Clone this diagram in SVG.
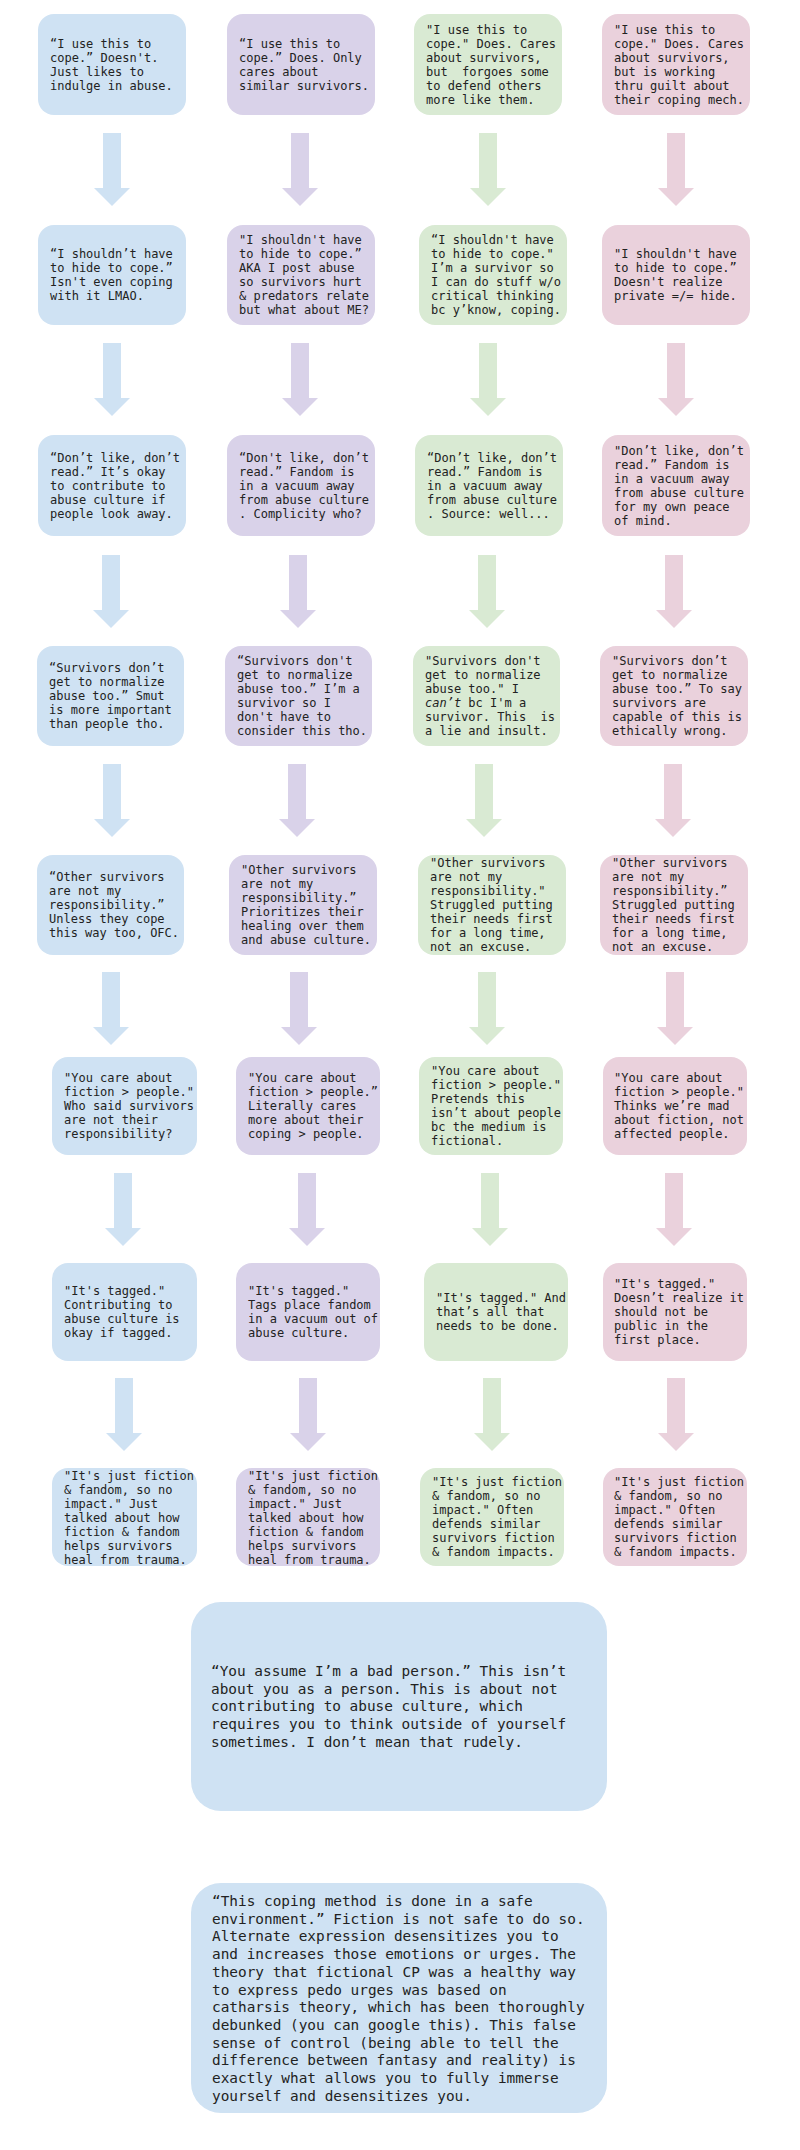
<svg xmlns="http://www.w3.org/2000/svg" xmlns:xlink="http://www.w3.org/1999/xlink" width="800" height="2150" viewBox="0 0 800 2150">
<style>
.b{fill:#cfe2f3}.p{fill:#d9d2e9}.g{fill:#d9ead3}.k{fill:#ead1dc}
.t{font-family:"DejaVu Sans Mono","Liberation Mono",monospace;font-size:12px;fill:#222;white-space:pre}
.T{font-size:14.4px}
</style>
<defs>
<path id="a" d="M-9,0H9V55H18L0,73L-18,55H-9Z"/>
</defs>
<rect width="800" height="2150" fill="#fff"/>
<g id="connectors">
<use xlink:href="#a" x="112" y="133" class="b"/>
<use xlink:href="#a" x="300" y="133" class="p"/>
<use xlink:href="#a" x="488" y="133" class="g"/>
<use xlink:href="#a" x="676" y="133" class="k"/>
<use xlink:href="#a" x="112" y="343" class="b"/>
<use xlink:href="#a" x="300" y="343" class="p"/>
<use xlink:href="#a" x="488" y="343" class="g"/>
<use xlink:href="#a" x="676" y="343" class="k"/>
<use xlink:href="#a" x="111" y="555" class="b"/>
<use xlink:href="#a" x="298" y="555" class="p"/>
<use xlink:href="#a" x="487" y="555" class="g"/>
<use xlink:href="#a" x="674" y="555" class="k"/>
<use xlink:href="#a" x="112" y="764" class="b"/>
<use xlink:href="#a" x="297" y="764" class="p"/>
<use xlink:href="#a" x="484" y="764" class="g"/>
<use xlink:href="#a" x="673" y="764" class="k"/>
<use xlink:href="#a" x="111" y="972" class="b"/>
<use xlink:href="#a" x="299" y="972" class="p"/>
<use xlink:href="#a" x="487" y="972" class="g"/>
<use xlink:href="#a" x="675" y="972" class="k"/>
<use xlink:href="#a" x="123" y="1173" class="b"/>
<use xlink:href="#a" x="307" y="1173" class="p"/>
<use xlink:href="#a" x="490" y="1173" class="g"/>
<use xlink:href="#a" x="674" y="1173" class="k"/>
<use xlink:href="#a" x="124" y="1378" class="b"/>
<use xlink:href="#a" x="308" y="1378" class="p"/>
<use xlink:href="#a" x="492" y="1378" class="g"/>
<use xlink:href="#a" x="676" y="1378" class="k"/>
</g>

<g id="b1"><rect x="38" y="14" width="148" height="101" rx="16" class="b"/>
<text class="t" x="50" y="47.5"><tspan x="50">“I use this to</tspan><tspan x="50" dy="14">cope.” Doesn't.</tspan><tspan x="50" dy="14">Just likes to</tspan><tspan x="50" dy="14">indulge in abuse.</tspan></text></g>
<g id="p1"><rect x="227" y="14" width="148" height="101" rx="16" class="p"/>
<text class="t" x="239" y="47.5"><tspan x="239">“I use this to</tspan><tspan x="239" dy="14">cope.” Does. Only</tspan><tspan x="239" dy="14">cares about</tspan><tspan x="239" dy="14">similar survivors.</tspan></text></g>
<g id="g1"><rect x="414" y="14" width="148" height="101" rx="16" class="g"/>
<text class="t" x="426" y="33.5"><tspan x="426">"I use this to</tspan><tspan x="426" dy="14">cope." Does. Cares</tspan><tspan x="426" dy="14">about survivors,</tspan><tspan x="426" dy="14">but  forgoes some</tspan><tspan x="426" dy="14">to defend others</tspan><tspan x="426" dy="14">more like them.</tspan></text></g>
<g id="k1"><rect x="602" y="14" width="148" height="101" rx="16" class="k"/>
<text class="t" x="614" y="33.5"><tspan x="614">"I use this to</tspan><tspan x="614" dy="14">cope." Does. Cares</tspan><tspan x="614" dy="14">about survivors,</tspan><tspan x="614" dy="14">but is working</tspan><tspan x="614" dy="14">thru guilt about</tspan><tspan x="614" dy="14">their coping mech.</tspan></text></g>

<g id="b2"><rect x="38" y="225" width="148" height="100" rx="16" class="b"/>
<text class="t" x="50" y="258"><tspan x="50">“I shouldn’t have</tspan><tspan x="50" dy="14">to hide to cope.”</tspan><tspan x="50" dy="14">Isn't even coping</tspan><tspan x="50" dy="14">with it LMAO.</tspan></text></g>
<g id="p2"><rect x="227" y="225" width="148" height="100" rx="16" class="p"/>
<text class="t" x="239" y="244"><tspan x="239">"I shouldn't have</tspan><tspan x="239" dy="14">to hide to cope.”</tspan><tspan x="239" dy="14">AKA I post abuse</tspan><tspan x="239" dy="14">so survivors hurt</tspan><tspan x="239" dy="14">&amp; predators relate</tspan><tspan x="239" dy="14">but what about ME?</tspan></text></g>
<g id="g2"><rect x="419" y="225" width="148" height="100" rx="16" class="g"/>
<text class="t" x="431" y="244"><tspan x="431">“I shouldn't have</tspan><tspan x="431" dy="14">to hide to cope."</tspan><tspan x="431" dy="14">I’m a survivor so</tspan><tspan x="431" dy="14">I can do stuff w/o</tspan><tspan x="431" dy="14">critical thinking</tspan><tspan x="431" dy="14">bc y’know, coping.</tspan></text></g>
<g id="k2"><rect x="602" y="225" width="148" height="100" rx="16" class="k"/>
<text class="t" x="614" y="258"><tspan x="614">"I shouldn't have</tspan><tspan x="614" dy="14">to hide to cope.”</tspan><tspan x="614" dy="14">Doesn't realize</tspan><tspan x="614" dy="14">private =/= hide.</tspan></text></g>

<g id="b3"><rect x="38" y="435" width="148" height="101" rx="16" class="b"/>
<text class="t" x="50" y="461.5"><tspan x="50">“Don’t like, don’t</tspan><tspan x="50" dy="14">read.” It’s okay</tspan><tspan x="50" dy="14">to contribute to</tspan><tspan x="50" dy="14">abuse culture if</tspan><tspan x="50" dy="14">people look away.</tspan></text></g>
<g id="p3"><rect x="227" y="435" width="148" height="101" rx="16" class="p"/>
<text class="t" x="239" y="461.5"><tspan x="239">“Don't like, don’t</tspan><tspan x="239" dy="14">read.” Fandom is</tspan><tspan x="239" dy="14">in a vacuum away</tspan><tspan x="239" dy="14">from abuse culture</tspan><tspan x="239" dy="14">. Complicity who?</tspan></text></g>
<g id="g3"><rect x="415" y="435" width="148" height="101" rx="16" class="g"/>
<text class="t" x="427" y="461.5"><tspan x="427">“Don’t like, don’t</tspan><tspan x="427" dy="14">read.” Fandom is</tspan><tspan x="427" dy="14">in a vacuum away</tspan><tspan x="427" dy="14">from abuse culture</tspan><tspan x="427" dy="14">. Source: well...</tspan></text></g>
<g id="k3"><rect x="602" y="435" width="148" height="101" rx="16" class="k"/>
<text class="t" x="614" y="454.5"><tspan x="614">"Don’t like, don’t</tspan><tspan x="614" dy="14">read.” Fandom is</tspan><tspan x="614" dy="14">in a vacuum away</tspan><tspan x="614" dy="14">from abuse culture</tspan><tspan x="614" dy="14">for my own peace</tspan><tspan x="614" dy="14">of mind.</tspan></text></g>

<g id="b4"><rect x="37" y="646" width="147" height="100" rx="16" class="b"/>
<text class="t" x="49" y="672"><tspan x="49">“Survivors don’t</tspan><tspan x="49" dy="14">get to normalize</tspan><tspan x="49" dy="14">abuse too.” Smut</tspan><tspan x="49" dy="14">is more important</tspan><tspan x="49" dy="14">than people tho.</tspan></text></g>
<g id="p4"><rect x="225" y="646" width="147" height="100" rx="16" class="p"/>
<text class="t" x="237" y="665"><tspan x="237">“Survivors don't</tspan><tspan x="237" dy="14">get to normalize</tspan><tspan x="237" dy="14">abuse too.” I’m a</tspan><tspan x="237" dy="14">survivor so I</tspan><tspan x="237" dy="14">don't have to</tspan><tspan x="237" dy="14">consider this tho.</tspan></text></g>
<g id="g4"><rect x="413" y="646" width="147" height="100" rx="16" class="g"/>
<text class="t" x="425" y="665"><tspan x="425">"Survivors don't</tspan><tspan x="425" dy="14">get to normalize</tspan><tspan x="425" dy="14">abuse too." I</tspan><tspan x="425" dy="14" font-style="italic">can’t</tspan><tspan> bc I'm a</tspan><tspan x="425" dy="14">survivor. This  is</tspan><tspan x="425" dy="14">a lie and insult.</tspan></text></g>
<g id="k4"><rect x="600" y="646" width="148" height="100" rx="16" class="k"/>
<text class="t" x="612" y="665"><tspan x="612">"Survivors don’t</tspan><tspan x="612" dy="14">get to normalize</tspan><tspan x="612" dy="14">abuse too.” To say</tspan><tspan x="612" dy="14">survivors are</tspan><tspan x="612" dy="14">capable of this is</tspan><tspan x="612" dy="14">ethically wrong.</tspan></text></g>

<g id="b5"><rect x="37" y="855" width="147" height="100" rx="16" class="b"/>
<text class="t" x="49" y="881"><tspan x="49">“Other survivors</tspan><tspan x="49" dy="14">are not my</tspan><tspan x="49" dy="14">responsibility.”</tspan><tspan x="49" dy="14">Unless they cope</tspan><tspan x="49" dy="14">this way too, OFC.</tspan></text></g>
<g id="p5"><rect x="229" y="855" width="148" height="100" rx="16" class="p"/>
<text class="t" x="241" y="874"><tspan x="241">"Other survivors</tspan><tspan x="241" dy="14">are not my</tspan><tspan x="241" dy="14">responsibility.”</tspan><tspan x="241" dy="14">Prioritizes their</tspan><tspan x="241" dy="14">healing over them</tspan><tspan x="241" dy="14">and abuse culture.</tspan></text></g>
<g id="g5"><rect x="418" y="855" width="148" height="100" rx="16" class="g"/>
<text class="t" x="430" y="867"><tspan x="430">"Other survivors</tspan><tspan x="430" dy="14">are not my</tspan><tspan x="430" dy="14">responsibility."</tspan><tspan x="430" dy="14">Struggled putting</tspan><tspan x="430" dy="14">their needs first</tspan><tspan x="430" dy="14">for a long time,</tspan><tspan x="430" dy="14">not an excuse.</tspan></text></g>
<g id="k5"><rect x="600" y="855" width="148" height="100" rx="16" class="k"/>
<text class="t" x="612" y="867"><tspan x="612">"Other survivors</tspan><tspan x="612" dy="14">are not my</tspan><tspan x="612" dy="14">responsibility.”</tspan><tspan x="612" dy="14">Struggled putting</tspan><tspan x="612" dy="14">their needs first</tspan><tspan x="612" dy="14">for a long time,</tspan><tspan x="612" dy="14">not an excuse.</tspan></text></g>

<g id="b6"><rect x="52" y="1057" width="145" height="98" rx="16" class="b"/>
<text class="t" x="64" y="1082"><tspan x="64">"You care about</tspan><tspan x="64" dy="14">fiction &gt; people."</tspan><tspan x="64" dy="14">Who said survivors</tspan><tspan x="64" dy="14">are not their</tspan><tspan x="64" dy="14">responsibility?</tspan></text></g>
<g id="p6"><rect x="236" y="1057" width="144" height="98" rx="16" class="p"/>
<text class="t" x="248" y="1082"><tspan x="248">"You care about</tspan><tspan x="248" dy="14">fiction &gt; people.”</tspan><tspan x="248" dy="14">Literally cares</tspan><tspan x="248" dy="14">more about their</tspan><tspan x="248" dy="14">coping &gt; people.</tspan></text></g>
<g id="g6"><rect x="419" y="1057" width="144" height="98" rx="16" class="g"/>
<text class="t" x="431" y="1075"><tspan x="431">"You care about</tspan><tspan x="431" dy="14">fiction &gt; people."</tspan><tspan x="431" dy="14">Pretends this</tspan><tspan x="431" dy="14">isn’t about people</tspan><tspan x="431" dy="14">bc the medium is</tspan><tspan x="431" dy="14">fictional.</tspan></text></g>
<g id="k6"><rect x="603" y="1057" width="144" height="98" rx="16" class="k"/>
<text class="t" x="614" y="1082"><tspan x="614">"You care about</tspan><tspan x="614" dy="14">fiction &gt; people."</tspan><tspan x="614" dy="14">Thinks we’re mad</tspan><tspan x="614" dy="14">about fiction, not</tspan><tspan x="614" dy="14">affected people.</tspan></text></g>

<g id="b7"><rect x="52" y="1263" width="145" height="98" rx="16" class="b"/>
<text class="t" x="64" y="1295"><tspan x="64">"It's tagged."</tspan><tspan x="64" dy="14">Contributing to</tspan><tspan x="64" dy="14">abuse culture is</tspan><tspan x="64" dy="14">okay if tagged.</tspan></text></g>
<g id="p7"><rect x="236" y="1263" width="144" height="98" rx="16" class="p"/>
<text class="t" x="248" y="1295"><tspan x="248">"It's tagged."</tspan><tspan x="248" dy="14">Tags place fandom</tspan><tspan x="248" dy="14">in a vacuum out of</tspan><tspan x="248" dy="14">abuse culture.</tspan></text></g>
<g id="g7"><rect x="424" y="1263" width="144" height="98" rx="16" class="g"/>
<text class="t" x="436" y="1302"><tspan x="436">"It's tagged." And</tspan><tspan x="436" dy="14">that’s all that</tspan><tspan x="436" dy="14">needs to be done.</tspan></text></g>
<g id="k7"><rect x="603" y="1263" width="144" height="98" rx="16" class="k"/>
<text class="t" x="614" y="1288"><tspan x="614">"It's tagged."</tspan><tspan x="614" dy="14">Doesn’t realize it</tspan><tspan x="614" dy="14">should not be</tspan><tspan x="614" dy="14">public in the</tspan><tspan x="614" dy="14">first place.</tspan></text></g>

<g id="b8"><rect x="52" y="1468" width="145" height="98" rx="16" class="b"/>
<text class="t" x="64" y="1480"><tspan x="64">"It's just fiction</tspan><tspan x="64" dy="14">&amp; fandom, so no</tspan><tspan x="64" dy="14">impact." Just</tspan><tspan x="64" dy="14">talked about how</tspan><tspan x="64" dy="14">fiction &amp; fandom</tspan><tspan x="64" dy="14">helps survivors</tspan><tspan x="64" dy="14">heal from trauma.</tspan></text></g>
<g id="p8"><rect x="236" y="1468" width="144" height="98" rx="16" class="p"/>
<text class="t" x="248" y="1480"><tspan x="248">"It's just fiction</tspan><tspan x="248" dy="14">&amp; fandom, so no</tspan><tspan x="248" dy="14">impact." Just</tspan><tspan x="248" dy="14">talked about how</tspan><tspan x="248" dy="14">fiction &amp; fandom</tspan><tspan x="248" dy="14">helps survivors</tspan><tspan x="248" dy="14">heal from trauma.</tspan></text></g>
<g id="g8"><rect x="420" y="1468" width="144" height="98" rx="16" class="g"/>
<text class="t" x="432" y="1486"><tspan x="432">"It's just fiction</tspan><tspan x="432" dy="14">&amp; fandom, so no</tspan><tspan x="432" dy="14">impact." Often</tspan><tspan x="432" dy="14">defends similar</tspan><tspan x="432" dy="14">survivors fiction</tspan><tspan x="432" dy="14">&amp; fandom impacts.</tspan></text></g>
<g id="k8"><rect x="603" y="1468" width="144" height="98" rx="16" class="k"/>
<text class="t" x="614" y="1486"><tspan x="614">"It's just fiction</tspan><tspan x="614" dy="14">&amp; fandom, so no</tspan><tspan x="614" dy="14">impact." Often</tspan><tspan x="614" dy="14">defends similar</tspan><tspan x="614" dy="14">survivors fiction</tspan><tspan x="614" dy="14">&amp; fandom impacts.</tspan></text></g>

<g id="big1"><rect x="191" y="1602" width="416" height="209" rx="30" class="b"/>
<text class="t T" x="211" y="1676"><tspan x="211">“You assume I’m a bad person.” This isn’t</tspan><tspan x="211" dy="17.7">about you as a person. This is about not</tspan><tspan x="211" dy="17.7">contributing to abuse culture, which</tspan><tspan x="211" dy="17.7">requires you to think outside of yourself</tspan><tspan x="211" dy="17.7">sometimes. I don’t mean that rudely.</tspan></text></g>

<g id="big2"><rect x="191" y="1883" width="416" height="230" rx="30" class="b"/>
<text class="t T" x="212" y="1906"><tspan x="212">“This coping method is done in a safe</tspan><tspan x="212" dy="17.7">environment.” Fiction is not safe to do so.</tspan><tspan x="212" dy="17.7">Alternate expression desensitizes you to</tspan><tspan x="212" dy="17.7">and increases those emotions or urges. The</tspan><tspan x="212" dy="17.7">theory that fictional CP was a healthy way</tspan><tspan x="212" dy="17.7">to express pedo urges was based on</tspan><tspan x="212" dy="17.7">catharsis theory, which has been thoroughly</tspan><tspan x="212" dy="17.7">debunked (you can google this). This false</tspan><tspan x="212" dy="17.7">sense of control (being able to tell the</tspan><tspan x="212" dy="17.7">difference between fantasy and reality) is</tspan><tspan x="212" dy="17.7">exactly what allows you to fully immerse</tspan><tspan x="212" dy="17.7">yourself and desensitizes you.</tspan></text></g>
</svg>
